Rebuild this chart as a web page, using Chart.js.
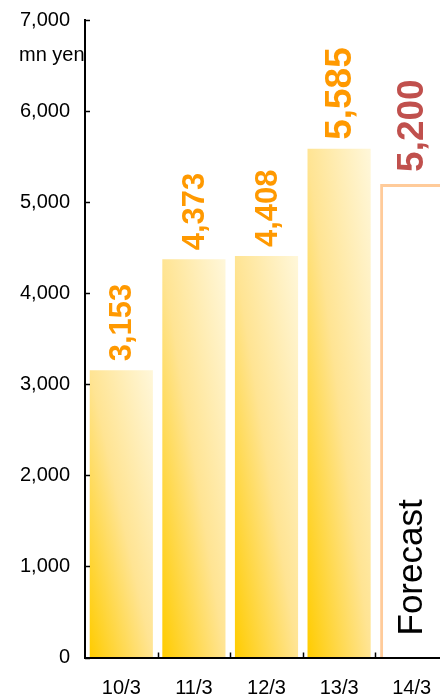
<!DOCTYPE html>
<html>
<head>
<meta charset="utf-8">
<script src="https://cdn.jsdelivr.net/npm/chart.js@4.4.1/dist/chart.umd.min.js"></script>
<style>
  html, body { margin: 0; padding: 0; background: #fff; overflow: hidden; }
  #wrap { position: absolute; left: 0; top: 0; width: 460px; height: 698px; }
</style>
</head>
<body>
<div id="wrap"><canvas id="c"></canvas></div>
<script>
// ---- data ----
const categories = ['10/3', '11/3', '12/3', '13/3', '14/3'];
const values = [3153, 4373, 4408, 5585, 5200];
const isForecast = [false, false, false, false, true];
const yTickValues = [0, 1000, 2000, 3000, 4000, 5000, 6000, 7000];
const unitLabel = 'mn yen';
const forecastLabel = 'Forecast';

const FONT = '"Liberation Sans", Arial, sans-serif';
const BAR_PCT = 0.87;

function fmt(v) { return v.toLocaleString('en-US'); }

function barFill(ctx) {
  const i = ctx.dataIndex;
  if (i === undefined) return '#FFD84A';
  if (isForecast[i]) return '#FFFFFF';
  const chart = ctx.chart;
  const xs = chart.scales.x, ys = chart.scales.y;
  if (!chart.chartArea || !xs || !ys) return '#FFD84A';
  const cx = xs.getPixelForValue(i);
  const w = (xs.right - xs.left) / categories.length * BAR_PCT;
  const L = cx - w / 2;
  const B = ys.getPixelForValue(0);
  const T = ys.getPixelForValue(values[i]);
  const h = B - T;
  const len2 = h * h + w * w;
  const k = 2 * w * h / len2;
  const g = chart.ctx.createLinearGradient(L, B, L + h * k, B - w * k);
  g.addColorStop(0, '#FFCC00');
  g.addColorStop(0.5, '#FFE493');
  g.addColorStop(1, '#FFF7DA');
  return g;
}

const decor = {
  id: 'decor',
  afterDatasetsDraw(chart) {
    const c = chart.ctx;
    const xs = chart.scales.x, ys = chart.scales.y;
    const area = chart.chartArea;
    c.save();
    // inward ticks
    c.strokeStyle = '#000';
    c.lineWidth = 1.5;
    yTickValues.forEach(v => {
      const y = Math.round(ys.getPixelForValue(v)) + 0.5;
      c.beginPath(); c.moveTo(area.left, y); c.lineTo(area.left + 5, y); c.stroke();
    });
    const cw = (xs.right - xs.left) / categories.length;
    for (let i = 0; i < categories.length; i++) {
      const x = Math.round(xs.getPixelForValue(i) + cw / 2) + 0.5;
      c.beginPath(); c.moveTo(x, area.bottom); c.lineTo(x, area.bottom - 5); c.stroke();
    }
    // value labels
    values.forEach((v, i) => {
      const cx = xs.getPixelForValue(i);
      const top = ys.getPixelForValue(v);
      const big = v >= 5000;
      c.save();
      c.translate(cx + (big ? 11.5 : 10), top - (isForecast[i] ? 12 : 9));
      c.rotate(-Math.PI / 2);
      c.font = 'bold ' + (big ? 37 : 31) + 'px ' + FONT;
      c.fillStyle = isForecast[i] ? '#C0504D' : '#FF9900';
      c.textAlign = 'left';
      c.textBaseline = 'alphabetic';
      c.fillText(fmt(v), 0, 0);
      c.restore();
    });
    // forecast text
    isForecast.forEach((f, i) => {
      if (!f) return;
      const cx = xs.getPixelForValue(i);
      c.save();
      c.translate(cx + 10.5, area.bottom - 22);
      c.rotate(-Math.PI / 2);
      c.font = '35px ' + FONT;
      c.fillStyle = '#000';
      c.textAlign = 'left';
      c.textBaseline = 'alphabetic';
      c.fillText(forecastLabel, 0, 0);
      c.restore();
    });
    // unit label
    c.font = '20px ' + FONT;
    c.fillStyle = '#000';
    c.textAlign = 'left';
    c.textBaseline = 'alphabetic';
    c.fillText(unitLabel, 19, 61);
    c.restore();
  }
};

new Chart(document.getElementById('c'), {
  type: 'bar',
  data: {
    labels: categories,
    datasets: [{
      data: values,
      backgroundColor: barFill,
      borderColor: (ctx) => (ctx.dataIndex !== undefined && isForecast[ctx.dataIndex]) ? '#FFCB9A' : 'rgba(0,0,0,0)',
      borderWidth: (ctx) => (ctx.dataIndex !== undefined && isForecast[ctx.dataIndex]) ? 3 : 0,
      borderSkipped: 'bottom',
      barPercentage: BAR_PCT,
      categoryPercentage: 1.0
    }]
  },
  options: {
    responsive: true,
    maintainAspectRatio: false,
    animation: false,
    layout: { padding: { top: 20, right: 12, left: 0, bottom: 0 } },
    plugins: { legend: { display: false }, tooltip: { enabled: false } },
    scales: {
      x: {
        grid: { display: true, drawOnChartArea: false, drawTicks: false, offset: true },
        border: { display: true, color: '#000', width: 2 },
        ticks: { color: '#000', font: { family: FONT, size: 20 }, padding: 19, maxRotation: 0 },
        afterFit(s) { s.height = 40.5; s.paddingLeft = 0; s.paddingRight = 0; }
      },
      y: {
        min: 0, max: 7000,
        grid: { display: true, drawOnChartArea: false, drawTicks: false },
        border: { display: true, color: '#000', width: 2 },
        ticks: { stepSize: 1000, color: '#000', font: { family: FONT, size: 20 }, padding: 15,
                 callback: (v) => fmt(v) },
        afterFit(s) { s.width = 85; s.paddingTop = 0; s.paddingBottom = 0; }
      }
    }
  },
  plugins: [decor]
});
</script>
</body>
</html>
